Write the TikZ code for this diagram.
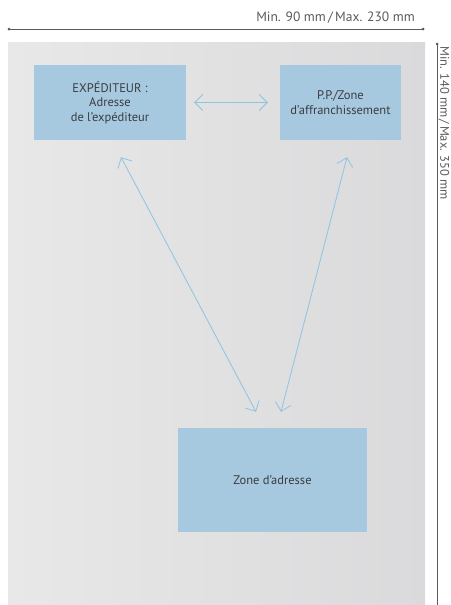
\documentclass[tikz,border=0pt]{standalone}
\usepackage{fontspec}
\setmainfont{PT Sans}
\usetikzlibrary{arrows.meta,positioning}
\usepackage{xcolor}
\definecolor{envelope}{HTML}{E8E8E8}
\definecolor{envshade}{HTML}{DADADC}
\definecolor{zonefill}{HTML}{A6C9E0}
\definecolor{link}{HTML}{8EC3E3}
\definecolor{ink}{HTML}{3A3D40}
\definecolor{dimline}{HTML}{5A5A5A}

\begin{document}
\begin{tikzpicture}[x=1pt,y=-1pt,
    zone/.style={fill=zonefill,draw=none,inner sep=0pt,align=center,
      text=ink,font=\fontsize{12.5}{14.5}\selectfont},
    link/.style={draw=link,line width=0.8pt,
      {Straight Barb[length=8pt,width=16pt]}-{Straight Barb[length=8pt,width=16pt]}},
    dim/.style={dimline,line width=0.6pt},
    dimtext/.style={font=\fontsize{13.5}{16}\selectfont,text=dimline}]
  \useasboundingbox (0,0) rectangle (450,605);

  % Envelope
  \shade[left color=envelope,right color=envshade] (8,42) rectangle (425,605);

  % Dimensions
  \coordinate (wl) at (9,29);
  \coordinate (wr) at (423,29);
  \draw[dim] (wl) -- (wr);
  \fill[dimline] (wl) circle (1.5) (wr) circle (1.5);
  \node[dimtext,anchor=south east,inner sep=0pt] (width) at (415,24) {Min. 90 mm\,/\,Max. 230 mm};

  \coordinate (ht) at (437,44);
  \coordinate (hb) at (437,605);
  \draw[dim] (ht) -- (hb);
  \fill[dimline] (ht) circle (1.5);
  \node[dimtext,font=\fontsize{12.5}{15}\selectfont,rotate=-90,anchor=north west,inner sep=0pt] (height) at (449.5,46) {Min. 140 mm\,/\,Max. 350 mm};

  % Zones
  \node[zone,minimum width=152pt,minimum height=75pt] (expediteur) at (110,102.5)
    {EXPÉDITEUR :\\Adresse\\de l’expéditeur};
  \node[zone,minimum width=121pt,minimum height=75pt] (affranchi) at (340.5,102.5)
    {P.P./Zone\\d’affranchissement};
  \node[zone,minimum width=189pt,minimum height=104pt] (adresse) at (272.5,480)
    {Zone d'adresse};

  % Links
  \draw[link] ([xshift=8pt]expediteur.east) -- ([xshift=-12pt]affranchi.west);
  \draw[link] ([xshift=11pt,yshift=-17pt]expediteur.south) -- ([xshift=-16.5pt,yshift=16pt]adresse.north);
  \draw[link] ([xshift=6.5pt,yshift=-17pt]affranchi.south) -- ([xshift=8.5pt,yshift=16pt]adresse.north);
\end{tikzpicture}
\end{document}
